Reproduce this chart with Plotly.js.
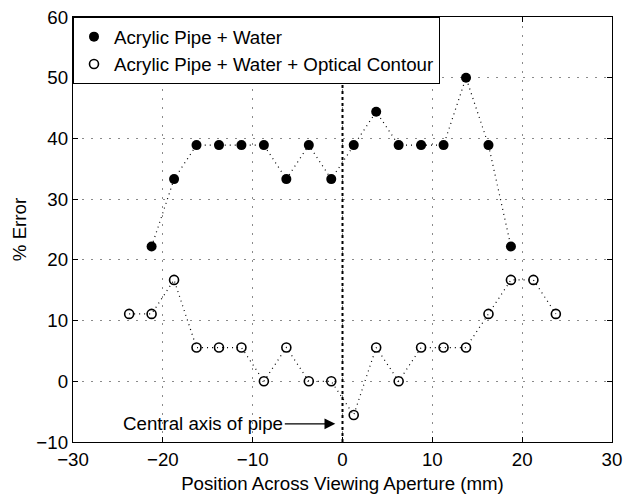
<!DOCTYPE html>
<html>
<head>
<meta charset="utf-8">
<script src="https://cdn.plot.ly/plotly-3.0.1.min.js"></script>
<style>html,body{margin:0;padding:0;background:#fff;}#chart{width:626px;height:494px;}</style>
</head>
<body>
<div id="chart"></div>
<script>
// Series 1: Acrylic Pipe + Water
const waterX = [-21.25, -18.75, -16.25, -13.75, -11.25, -8.75, -6.25, -3.75, -1.25, 1.25, 3.75, 6.25, 8.75, 11.25, 13.75, 16.25, 18.75];
const waterY = [22.2, 33.3, 38.9, 38.9, 38.9, 38.9, 33.3, 38.9, 33.3, 38.9, 44.4, 38.9, 38.9, 38.9, 50.0, 38.9, 22.2];
// Series 2: Acrylic Pipe + Water + Optical Contour
const contourX = [-23.75, -21.25, -18.75, -16.25, -13.75, -11.25, -8.75, -6.25, -3.75, -1.25, 1.25, 3.75, 6.25, 8.75, 11.25, 13.75, 16.25, 18.75, 21.25, 23.75];
const contourY = [11.1, 11.1, 16.7, 5.56, 5.56, 5.56, 0, 5.56, 0, 0, -5.56, 5.56, 0, 5.56, 5.56, 5.56, 11.1, 16.7, 16.7, 11.1];
// Central axis of pipe
const axisX = [0, 0];
const axisY = [-10, 60];
const annotText = "Central axis of pipe";
const annotPoint = [-0.8, -7];

const xTicks = [-30, -20, -10, 0, 10, 20, 30];
const yTicks = [-10, 0, 10, 20, 30, 40, 50, 60];

const FONT = "'Liberation Sans', Arial, Helvetica, sans-serif";
const FS = 18.7;

const traces = [
  {x: axisX, y: axisY, mode: 'lines', line: {color: '#000', width: 2, dash: '3px,3px'}, showlegend: false, hoverinfo: 'skip'},
  {x: waterX, y: waterY, mode: 'lines', line: {color: '#000', width: 1.2, dash: '1px,4px'}, showlegend: false},
  {x: contourX, y: contourY, mode: 'lines', line: {color: '#000', width: 1.2, dash: '1px,4px'}, showlegend: false},
  {x: waterX, y: waterY, mode: 'markers', name: 'Acrylic Pipe + Water', legendgroup: 'a',
   marker: {symbol: 'circle', size: 10, color: '#000', line: {width: 0}}},
  {x: contourX, y: contourY, mode: 'markers', name: 'Acrylic Pipe + Water + Optical Contour', legendgroup: 'b',
   marker: {symbol: 'circle-open', size: 9, color: '#000', line: {width: 1.6, color: '#000'}}}
];

const axisCommon = {
  showline: true, linecolor: '#000', linewidth: 1.2, mirror: 'allticks',
  ticks: 'inside', ticklen: 5, tickwidth: 1, tickcolor: '#000',
  showgrid: true, gridcolor: '#8a8a8a', gridwidth: 1, griddash: '2px,7px',
  zeroline: false, tickfont: {family: FONT, size: FS, color: '#000'}
};

const layout = {
  width: 626, height: 494,
  margin: {l: 73, r: 14, t: 17, b: 52},
  paper_bgcolor: '#fff', plot_bgcolor: '#fff',
  font: {family: FONT, size: FS, color: '#000'},
  xaxis: Object.assign({}, axisCommon, {
    range: [-30, 30], tickmode: 'array', tickvals: xTicks,
    title: {text: 'Position Across Viewing Aperture (mm)', font: {family: FONT, size: FS}, standoff: 8}
  }),
  yaxis: Object.assign({}, axisCommon, {
    range: [-10, 60], tickmode: 'array', tickvals: yTicks,
    title: {text: '% Error', font: {family: FONT, size: FS}, standoff: 4}
  }),
  showlegend: true,
  legend: {x: 0, y: 1, xanchor: 'left', yanchor: 'top', bgcolor: '#fff', bordercolor: '#000', borderwidth: 1,
    font: {family: FONT, size: FS, color: '#000'}, tracegroupgap: 0},
  annotations: [{
    x: annotPoint[0], y: annotPoint[1], xref: 'x', yref: 'y',
    text: annotText, showarrow: true, arrowhead: 2, arrowsize: 1.8, arrowwidth: 1.2, arrowcolor: '#000',
    ax: -132, ay: 0, font: {family: FONT, size: FS, color: '#000'}
  }]
};

Plotly.newPlot('chart', traces, layout, {displayModeBar: false, staticPlot: true});
</script>
</body>
</html>
